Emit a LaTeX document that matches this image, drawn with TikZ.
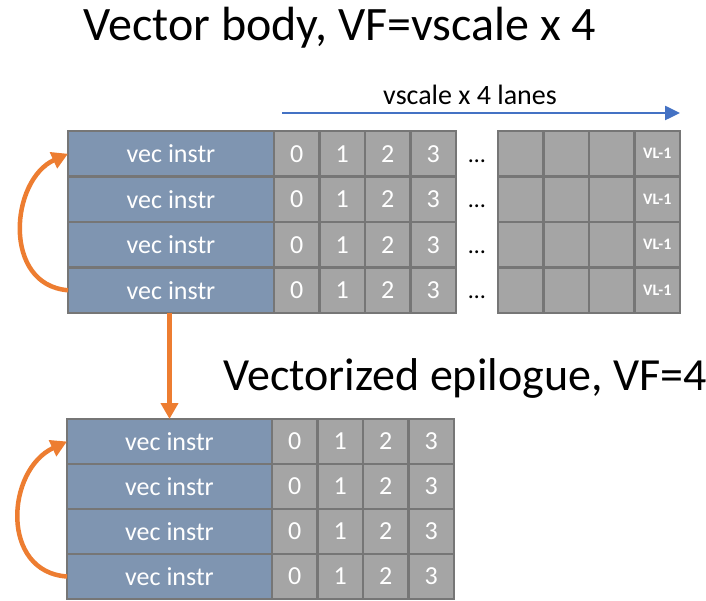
\documentclass[tikz,border=0pt]{standalone}
\usepackage{fontspec}
\setmainfont{Carlito}
\usetikzlibrary{arrows.meta}
\definecolor{instrblue}{HTML}{7F95B1}
\definecolor{lanegray}{HTML}{A5A5A5}
\definecolor{edgegray}{HTML}{767676}
\definecolor{loopor}{HTML}{ED7D31}
\definecolor{lanearrow}{HTML}{4472C4}
\tikzset{
  instrbox/.style={draw=edgegray, line width=2.5pt, fill=instrblue, text=white,
    minimum width=206pt, minimum height=45.5pt, inner sep=0pt, outer sep=0pt,
    font=\fontsize{26}{26}\selectfont},
  lanebox/.style={draw=edgegray, line width=2.5pt, fill=lanegray, text=white,
    minimum width=45.5pt, minimum height=45.5pt, inner sep=0pt, outer sep=0pt,
    font=\fontsize{26}{26}\selectfont},
  vlbox/.style={lanebox, font=\fontsize{16}{16}\selectfont\bfseries},
  dotsnode/.style={inner sep=0pt, font=\fontsize{24}{24}\selectfont},
  titletext/.style={inner sep=0pt, font=\fontsize{48}{48}\selectfont},
  loopar/.style={draw=loopor, line width=4.5pt, -{Triangle[length=16pt,width=17pt]}},
  lanear/.style={draw=lanearrow, line width=2.5pt, -{Triangle[length=15pt,width=14pt]}}
}
\begin{document}
\begin{tikzpicture}[x=1pt,y=-1pt]
\fill[white] (0,0) rectangle (706,601);
\useasboundingbox (0,0) rectangle (706,601);
% titles
\node[titletext] (title1) at (340,28) {Vector body, VF=vscale x 4};
\node[titletext, font=\fontsize{46}{46}\selectfont] (title2) at (465,378) {Vectorized epilogue, VF=4};
% lanes arrow
\coordinate (la) at (282,113);
\coordinate (lb) at (680,113);
\draw[lanear] (la) -- (lb);
\node[inner sep=0pt, font=\fontsize{28}{28}\selectfont] (lanes) at (470,95) {vscale x 4 lanes};
% top block
\foreach \r/\y in {1/153.75,2/199.25,3/244.75,4/290.25}{
  \node[instrbox] (t\r) at (171,\y) {vec instr};
  \foreach \c/\x in {0/296.75,1/342.25,2/387.75,3/433.25}{
    \node[lanebox] (t\r c\c) at (\x,\y) {\c};
  }
  \node[dotsnode] (td\r) at (477,\y+7) {\dots};
  \node[lanebox] (t\r r1) at (520.75,\y) {};
  \node[lanebox] (t\r r2) at (566.25,\y) {};
  \node[lanebox] (t\r r3) at (611.75,\y) {};
  \node[vlbox] (t\r r4) at (657.25,\y) {VL-1};
}
% bottom block
\foreach \r/\y in {1/441.5,2/486.5,3/531.5,4/576.5}{
  \node[instrbox, minimum width=205pt, minimum height=45pt] (e\r) at (169.5,\y) {vec instr};
  \foreach \c/\x in {0/294.75,1/340.25,2/385.75,3/431.25}{
    \node[lanebox, minimum height=45pt] (e\r c\c) at (\x,\y) {\c};
  }
}
% arrows
\draw[loopar] (t4.west) .. controls (2,285) and (10,180) .. (t1.west);
\draw[loopar] (e4.west) .. controls (0,572) and (6,470) .. (e1.west);
\draw[loopar] (t4.south -| e1.north) -- (e1.north);
\end{tikzpicture}
\end{document}
